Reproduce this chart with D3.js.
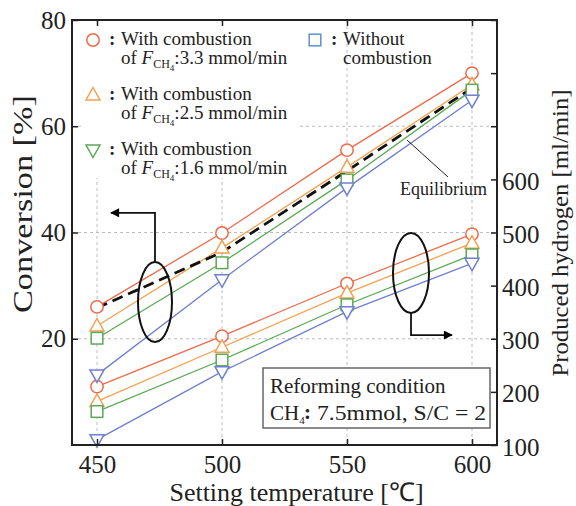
<!DOCTYPE html>
<html>
<head>
<meta charset="utf-8">
<script src="https://cdn.jsdelivr.net/npm/d3@7"></script>
<style>
body { margin: 0; background: #fff; }
svg { font-family: "Liberation Serif", "Times New Roman", serif; }
</style>
</head>
<body>
<svg id="chart" width="576" height="506"></svg>
<script>
// values
const temps = [450, 500, 550, 600];
const convRed = [26.0, 39.9, 55.5, 70.0];
const convOrange = [22.4, 37.1, 52.3, 67.8];
const convGreen = [20.1, 34.3, 49.9, 66.8];
const convBlue = [13.2, 31.1, 48.4, 64.9];
const equilibrium = [25.8, 36.3, 51.6, 67.2];
const h2Red = [210, 305, 404, 497];
const h2Orange = [182, 284, 386, 480];
const h2Green = [163, 260, 364, 458];
const h2Blue = [110, 238, 351, 442];
const xTicks = [450, 500, 550, 600];
const convTicks = [20, 40, 60, 80];
const h2Ticks = [100, 200, 300, 400, 500, 600, 700, 800, 900];
const h2Labels = [100, 200, 300, 400, 500, 600];

const colors = { red: '#ee6a4a', orange: '#f5a050', green: '#5aaa55', blue: '#6f7fd0', legBlue: '#5b8fd6' };

const series = [
    { conv: convRed, h2: h2Red, color: colors.red, shape: 'circle' },
    { conv: convOrange, h2: h2Orange, color: colors.orange, shape: 'up' },
    { conv: convGreen, h2: h2Green, color: colors.green, shape: 'square' },
    { conv: convBlue, h2: h2Blue, color: colors.blue, shape: 'down' }
];

const svg = d3.select('#chart');
const pLeft = 72, pRight = 497, pTop = 20, pBottom = 445;
const ink = '#222';

const x = d3.scaleLinear().domain([440, 610]).range([pLeft, pRight]);
const yL = d3.scaleLinear().domain([0, 80]).range([pBottom, pTop]);
const yR = d3.scaleLinear().domain([100, 900]).range([pBottom, pTop]);

// grid
const grid = svg.append('g')
    .attr('stroke', '#bdbdbd')
    .attr('stroke-width', 1)
    .attr('stroke-dasharray', '3,3');
grid.selectAll('.vg').data(xTicks).enter().append('line')
    .attr('x1', d => x(d)).attr('x2', d => x(d))
    .attr('y1', pTop).attr('y2', pBottom);
grid.selectAll('.hg').data([20, 40, 60]).enter().append('line')
    .attr('x1', pLeft).attr('x2', pRight)
    .attr('y1', d => yL(d)).attr('y2', d => yL(d));

// legend background hides grid behind it
svg.append('rect')
    .attr('x', 82).attr('y', 22).attr('width', 218).attr('height', 156)
    .attr('fill', '#fff');

const lineL = d3.line().x((d, i) => x(temps[i])).y(d => yL(d));
const lineR = d3.line().x((d, i) => x(temps[i])).y(d => yR(d));

series.forEach(s => {
    svg.append('path').attr('d', lineL(s.conv))
        .attr('fill', 'none').attr('stroke', s.color).attr('stroke-width', 1.3);
    svg.append('path').attr('d', lineR(s.h2))
        .attr('fill', 'none').attr('stroke', s.color).attr('stroke-width', 1.3);
});

// equilibrium dashed line
svg.append('path').attr('d', lineL(equilibrium))
    .attr('fill', 'none').attr('stroke', '#111')
    .attr('stroke-width', 2.8).attr('stroke-dasharray', '11,6');

function marker(g, shape, color, cx, cy) {
    let m;
    if (shape === 'circle') {
        m = g.append('circle').attr('cx', cx).attr('cy', cy).attr('r', 6.2);
    } else if (shape === 'square') {
        m = g.append('rect').attr('x', cx - 5.8).attr('y', cy - 5.8)
            .attr('width', 11.6).attr('height', 11.6);
    } else if (shape === 'up') {
        m = g.append('path').attr('d', `M${cx},${cy - 7.5}L${cx + 7},${cy + 5}L${cx - 7},${cy + 5}Z`);
    } else {
        m = g.append('path').attr('d', `M${cx},${cy + 7.5}L${cx + 7},${cy - 5}L${cx - 7},${cy - 5}Z`);
    }
    m.attr('fill', '#fff').attr('stroke', color).attr('stroke-width', 1.5);
}

const marks = svg.append('g');
series.forEach(s => {
    temps.forEach((t, i) => {
        marker(marks, s.shape, s.color, x(t), yL(s.conv[i]));
        marker(marks, s.shape, s.color, x(t), yR(s.h2[i]));
    });
});

// frame
svg.append('rect')
    .attr('x', pLeft).attr('y', pTop)
    .attr('width', pRight - pLeft).attr('height', pBottom - pTop)
    .attr('fill', 'none').attr('stroke', ink).attr('stroke-width', 2);

// axes, ticks pointing inward
const tickFont = 25;
const axB = svg.append('g').attr('transform', `translate(0,${pBottom})`)
    .call(d3.axisBottom(x).tickValues(xTicks).tickSizeInner(-6).tickSizeOuter(0).tickPadding(10));
const axT = svg.append('g').attr('transform', `translate(0,${pTop})`)
    .call(d3.axisTop(x).tickValues(xTicks).tickSizeInner(-6).tickSizeOuter(0).tickFormat(''));
const axL = svg.append('g').attr('transform', `translate(${pLeft},0)`)
    .call(d3.axisLeft(yL).tickValues(convTicks).tickSizeInner(-6).tickSizeOuter(0).tickPadding(6));
const axR = svg.append('g').attr('transform', `translate(${pRight},0)`)
    .call(d3.axisRight(yR).tickValues(h2Ticks).tickSizeInner(-6).tickSizeOuter(0).tickPadding(5)
        .tickFormat(d => h2Labels.includes(d) ? d : ''));

[axB, axT, axL, axR].forEach(a => {
    a.select('.domain').remove();
    a.selectAll('line').attr('stroke', ink).attr('stroke-width', 1.5);
    a.selectAll('text')
        .attr('fill', ink)
        .style('font-family', '"Liberation Serif", serif')
        .style('font-size', tickFont + 'px');
});
axR.selectAll('text').attr('dy', '0.4em');

// axis titles
svg.append('text')
    .attr('x', (pLeft + pRight) / 2 + 12).attr('y', 501)
    .attr('text-anchor', 'middle')
    .attr('fill', ink)
    .style('font-size', '26px')
    .text('Setting temperature [℃]');

svg.append('text')
    .attr('transform', 'translate(32,204) rotate(-90)')
    .attr('text-anchor', 'middle')
    .attr('fill', ink)
    .attr('textLength', 218).attr('lengthAdjust', 'spacingAndGlyphs')
    .style('font-size', '27px')
    .text('Conversion [%]');

svg.append('text')
    .attr('transform', 'translate(568,233) rotate(-90)')
    .attr('text-anchor', 'middle')
    .attr('fill', ink)
    .attr('textLength', 287).attr('lengthAdjust', 'spacingAndGlyphs')
    .style('font-size', '24px')
    .text('Produced hydrogen [ml/min]');

// legend
const leg = svg.append('g').attr('fill', ink).style('font-size', '19px');
const legRows = [
    { shape: 'circle', color: colors.red, cy: 40, y: 45, rate: '3.3' },
    { shape: 'up', color: colors.orange, cy: 95, y: 100, rate: '2.5' },
    { shape: 'down', color: colors.green, cy: 150, y: 155, rate: '1.6' }
];
legRows.forEach(r => {
    marker(leg, r.shape, r.color, 93, r.cy);
    leg.append('text').attr('x', 109).attr('y', r.y).style('font-weight', 'bold').text(':');
    leg.append('text').attr('x', 121).attr('y', r.y).text('With combustion');
    const t = leg.append('text').attr('x', 121).attr('y', r.y + 19);
    t.append('tspan').text('of ');
    t.append('tspan').style('font-style', 'italic').text('F');
    t.append('tspan').attr('dy', 4).style('font-size', '12px').text('CH');
    t.append('tspan').attr('dy', 3).style('font-size', '9px').text('4');
    t.append('tspan').attr('dy', -7).text(':' + r.rate + ' mmol/min');
});
marker(leg, 'square', colors.legBlue, 315, 40);
leg.append('text').attr('x', 331).attr('y', 45).style('font-weight', 'bold').text(':');
leg.append('text').attr('x', 343).attr('y', 45).text('Without');
leg.append('text').attr('x', 343).attr('y', 64).text('combustion');

// equilibrium label
svg.append('line')
    .attr('x1', 407).attr('y1', 140).attr('x2', 448).attr('y2', 177)
    .attr('stroke', ink).attr('stroke-width', 1);
svg.append('text')
    .attr('x', 400).attr('y', 195)
    .attr('fill', ink).style('font-size', '18px')
    .text('Equilibrium');

// arrows and ellipses pointing to the axes
svg.append('defs').append('marker')
    .attr('id', 'arr').attr('viewBox', '0 0 10 10')
    .attr('refX', 9).attr('refY', 5)
    .attr('markerWidth', 12).attr('markerHeight', 9)
    .attr('markerUnits', 'userSpaceOnUse')
    .attr('orient', 'auto')
    .append('path').attr('d', 'M0,0L10,5L0,10Z').attr('fill', '#000');

const e1x = x(473.2), e1y = yL(26.9);
svg.append('ellipse').attr('cx', e1x).attr('cy', e1y).attr('rx', 17).attr('ry', 40)
    .attr('fill', 'none').attr('stroke', '#111').attr('stroke-width', 2);
svg.append('path')
    .attr('d', `M${e1x},${e1y - 40}V${yL(43.7)}H${x(455.6)}`)
    .attr('fill', 'none').attr('stroke', '#111').attr('stroke-width', 1.8)
    .attr('marker-end', 'url(#arr)');

const e2x = x(575.6), e2y = yR(423.8);
svg.append('ellipse').attr('cx', e2x).attr('cy', e2y).attr('rx', 18).attr('ry', 40)
    .attr('fill', 'none').attr('stroke', '#111').attr('stroke-width', 2);
svg.append('path')
    .attr('d', `M${e2x},${e2y + 40}V${yR(307)}H${x(592)}`)
    .attr('fill', 'none').attr('stroke', '#111').attr('stroke-width', 1.8)
    .attr('marker-end', 'url(#arr)');

// reforming condition box
svg.append('rect')
    .attr('x', 263).attr('y', 368).attr('width', 227).attr('height', 60)
    .attr('fill', '#fff').attr('stroke', '#666').attr('stroke-width', 1.5);
const box = svg.append('g').attr('fill', ink).style('font-size', '21px');
box.append('text').attr('x', 270).attr('y', 393).text('Reforming condition');
const ch = box.append('text').attr('x', 270).attr('y', 420);
ch.append('tspan').text('CH');
ch.append('tspan').attr('dy', 4).style('font-size', '11px').text('4');
box.append('text').attr('x', 304).attr('y', 419).style('font-weight', 'bold').text(':');
box.append('text').attr('x', 317).attr('y', 420)
    .attr('textLength', 169).attr('lengthAdjust', 'spacingAndGlyphs').text('7.5mmol, S/C = 2');
</script>
</body>
</html>
